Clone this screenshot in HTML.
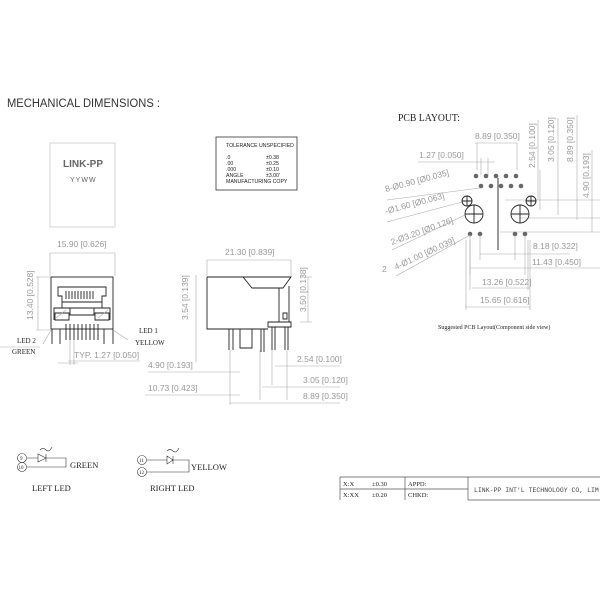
<!DOCTYPE html>
<html><head><style>
html,body{margin:0;padding:0;background:#fff;}
svg{display:block;font-family:"Liberation Sans",sans-serif;}
.d{font-size:8.5px;fill:#999;}
.l{stroke:#aaa;stroke-width:0.6;fill:none;}
.k{stroke:#222;stroke-width:0.9;fill:none;}
.s{font-family:"Liberation Serif",serif;fill:#222;}
</style></head><body>
<svg width="600" height="600" viewBox="0 0 600 600">
<text x="7" y="107" font-size="11.5" fill="#333" textLength="153" lengthAdjust="spacingAndGlyphs">MECHANICAL DIMENSIONS :</text>

<!-- top label box -->
<rect x="50" y="143" width="65" height="84" fill="none" stroke="#ccc" stroke-width="0.8"/>
<text x="63" y="167" font-size="10" font-weight="bold" fill="#666">LINK-PP</text>
<text x="70" y="182" font-size="7" fill="#666" letter-spacing="1">YYWW</text>

<!-- front view -->
<text x="57" y="247" class="d">15.90 [0.626]</text>
<path class="l" d="M50 253H115M50 253V276M115 253V276"/>
<path class="l" d="M36 277H50M36 330H50M38 277V330"/>
<text class="d" transform="translate(33,320) rotate(-90)">13.40 [0.528]</text>
<rect x="51" y="277" width="62" height="52" class="k"/>
<path class="k" d="M58 287H106V296H102V302H62V296H58Z M66 291V299M69 291V299M72 291V299M75 291V299M78 291V299M81 291V299M84 291V299M87 291V299M90 291V299M93 291V299 M62 302V308H102V302 M54 320V308H70V315H94V308H110V320 M55 313H69V320H55Z M95 313H109V320H95Z M52 329V344M113 329V344M60 329V344M104 329V344 M66 324V340M70 324V340M74 324V340M78 324V340M82 324V340M86 324V340M90 324V340M94 324V340M98 324V340"/>
<path class="l" d="M56 318l10-8M98 318l10-8 M51 330l-8 14M113 330l15 10"/>
<text x="139" y="333" font-size="7" class="s">LED 1</text>
<text x="135" y="345" font-size="7" class="s">YELLOW</text>
<text x="17" y="343" font-size="7" class="s">LED 2</text>
<text x="12" y="354" font-size="7" class="s">GREEN</text>
<path class="l" d="M0 347H40"/>
<text x="74" y="358" class="d">TYP. 1.27 [0.050]</text>
<path class="l" d="M68 361H140M58 363H78M70 340V365M74 340V365"/>
<text x="148" y="368" class="d">4.90 [0.193]</text>
<path class="l" d="M148 372H240"/>
<text x="148" y="391" class="d">10.73 [0.423]</text>
<path class="l" d="M145 395H240"/>

<!-- tolerance box -->
<rect x="216" y="137" width="81" height="53" fill="#fff" stroke="#333" stroke-width="0.8"/>
<g font-size="5.2" fill="#222">
<text x="226" y="147">TOLERANCE  UNSPECIFIED</text>
<text x="226" y="159">.0</text><text x="266" y="159">±0.38</text>
<text x="226" y="165">.00</text><text x="266" y="165">±0.25</text>
<text x="226" y="171">.000</text><text x="266" y="171">±0.10</text>
<text x="226" y="177">ANGLE</text><text x="266" y="177">±3.00'</text>
<text x="226" y="183">MANUFACTURING    COPY</text>
</g>

<!-- side view -->
<text x="225" y="255" class="d">21.30 [0.839]</text>
<path class="l" d="M207 260H291M207 260V276M291 260V276"/>
<text class="d" transform="translate(188,320) rotate(-90)">3.54 [0.139]</text>
<path class="l" d="M196 275V362M300 277H312M300 322H312M308 277V322"/>
<text class="d" transform="translate(306,312) rotate(-90)">3.50 [0.138]</text>
<path class="k" d="M207 277H291L283 288H252L243 277 M207 277V329H268 M279 288V322 M289 286V322 M268 322H291V327H268Z M283 313h4v6h-4Z M229 329V350M233 329V350 M240 329V348H252V329 M261 329V352M264 329V352 M272 327V350M275 327V350 M285 327V350M288 327V350"/>
<text x="297" y="362" class="d">2.54 [0.100]</text>
<path class="l" d="M275 366H340M260 350V400M272 350V385M287 350V400"/>
<text x="303" y="383" class="d">3.05 [0.120]</text>
<path class="l" d="M262 387H340"/>
<text x="303" y="399" class="d">8.89 [0.350]</text>
<path class="l" d="M230 403H340M230 350V405"/>

<!-- PCB layout -->
<text x="398" y="121" font-size="11" class="s" textLength="62" lengthAdjust="spacingAndGlyphs">PCB LAYOUT:</text>
<text x="475" y="139" class="d">8.89 [0.350]</text>
<path class="l" d="M475 143H517M477 143V170M517 143V170"/>
<text x="419" y="158" class="d">1.27 [0.050]</text>
<path class="l" d="M418 162H495M481 158V175M488 158V175"/>
<text class="d" transform="translate(535,168) rotate(-90)">2.54 [0.100]</text>
<text class="d" transform="translate(554,162) rotate(-90)">3.05 [0.120]</text>
<text class="d" transform="translate(573,162) rotate(-90)">8.89 [0.350]</text>
<text class="d" transform="translate(589,198) rotate(-90)">4.90 [0.193]</text>
<path class="l" d="M538 120V200M558 118V215M577 115V220M592 150V232M505 200H600M520 218H600M500 232H600M540 170V210"/>
<g fill="#666">
<circle cx="476" cy="176" r="2.3"/><circle cx="486" cy="176" r="2.3"/><circle cx="496" cy="176" r="2.3"/><circle cx="506" cy="176" r="2.3"/><circle cx="516" cy="176" r="2.3"/>
<circle cx="481" cy="186" r="2.3"/><circle cx="491" cy="186" r="2.3"/><circle cx="501" cy="186" r="2.3"/><circle cx="511" cy="186" r="2.3"/><circle cx="521" cy="186" r="2.3"/>
<circle cx="470" cy="234" r="2.3"/><circle cx="480" cy="234" r="2.3"/><circle cx="515" cy="234" r="2.3"/><circle cx="525" cy="234" r="2.3"/>
</g>
<g class="k" stroke-width="0.8">
<circle cx="467" cy="201" r="5"/><circle cx="531" cy="201" r="5"/>
<circle cx="474" cy="214" r="9"/><circle cx="520" cy="214" r="9"/>
<path d="M462 201H472M467 196V206M526 201H536M531 196V206M465 214H483M474 205V223M511 214H529M520 205V223M498 178V250"/>
</g>
<text x="386" y="192" class="d" transform="rotate(-15 386 192)">8-Ø0.90 [Ø0.035]</text>
<text x="386" y="214" class="d" transform="rotate(-15 386 214)">-Ø1.60 [Ø0.063]</text>
<text x="392" y="245" class="d" transform="rotate(-20 392 245)">2-Ø3.20 [Ø0.126]</text>
<text x="396" y="270" class="d" transform="rotate(-25 396 270)">4-Ø1.00 [Ø0.039]</text>
<text x="382" y="272" class="d">2</text>
<path class="l" d="M387 200L480 188M387 222L462 202M392 250L465 215M396 276L470 235"/>
<text x="533" y="249" class="d">8.18 [0.322]</text>
<path class="l" d="M480 254H570M480 235V260M515 235V260"/>
<text x="532" y="265" class="d">11.43 [0.450]</text>
<path class="l" d="M470 268H600M470 235V275M525 235V275"/>
<text x="482" y="285" class="d">13.26 [0.522]</text>
<path class="l" d="M472 288H530M470 240V290M528 240V290"/>
<text x="480" y="303" class="d">15.65 [0.616]</text>
<path class="l" d="M465 307H530M466 240V310M530 240V310"/>
<text x="438" y="329" font-size="6" class="s">Suggested PCB Layout(Component side view)</text>

<!-- LED schematics -->
<g class="s" font-size="6">
<circle cx="22" cy="458" r="4.5" fill="none" stroke="#333" stroke-width="0.6"/><text x="20" y="460" font-size="5">9</text>
<circle cx="22" cy="467" r="4.5" fill="none" stroke="#333" stroke-width="0.6"/><text x="18.5" y="469" font-size="5">10</text>
<circle cx="142" cy="460" r="4.5" fill="none" stroke="#333" stroke-width="0.6"/><text x="139" y="462" font-size="5">11</text>
<circle cx="142" cy="472" r="4.5" fill="none" stroke="#333" stroke-width="0.6"/><text x="139" y="474" font-size="5">12</text>
</g>
<path stroke="#333" stroke-width="0.6" fill="none" d="M27 458H38M38 454V462L46 458Z M46 454V462M46 458H66V467H27 M147 460H167M167 456V464L173 460Z M173 456V464M173 460H189V472H147 M40 450q3-3 6 0t6-3 M167 451q3-3 6 0t6-3"/>
<text x="70" y="468" font-size="8.5" class="s">GREEN</text>
<text x="191" y="470" font-size="8.5" class="s">YELLOW</text>
<text x="32" y="491" font-size="8.5" class="s">LEFT LED</text>
<text x="150" y="491" font-size="8.5" class="s">RIGHT LED</text>

<!-- title block -->
<path stroke="#555" stroke-width="0.7" fill="none" d="M340 477H600M340 489H468M340 477V500M405 477V500M468 477V500M468 500H600"/>
<g font-size="6.5" class="s" fill="#444">
<text x="343" y="486">X:X</text><text x="372" y="486">±0.30</text><text x="408" y="486">APPD:</text>
<text x="343" y="497">X:XX</text><text x="372" y="497">±0.20</text><text x="408" y="497">CHKD:</text>
</g>
<text x="474" y="492" font-size="6.5" fill="#444" font-family="Liberation Mono,monospace">LINK-PP INT'L TECHNOLOGY CO, LIM</text>
</svg>
</body></html>
